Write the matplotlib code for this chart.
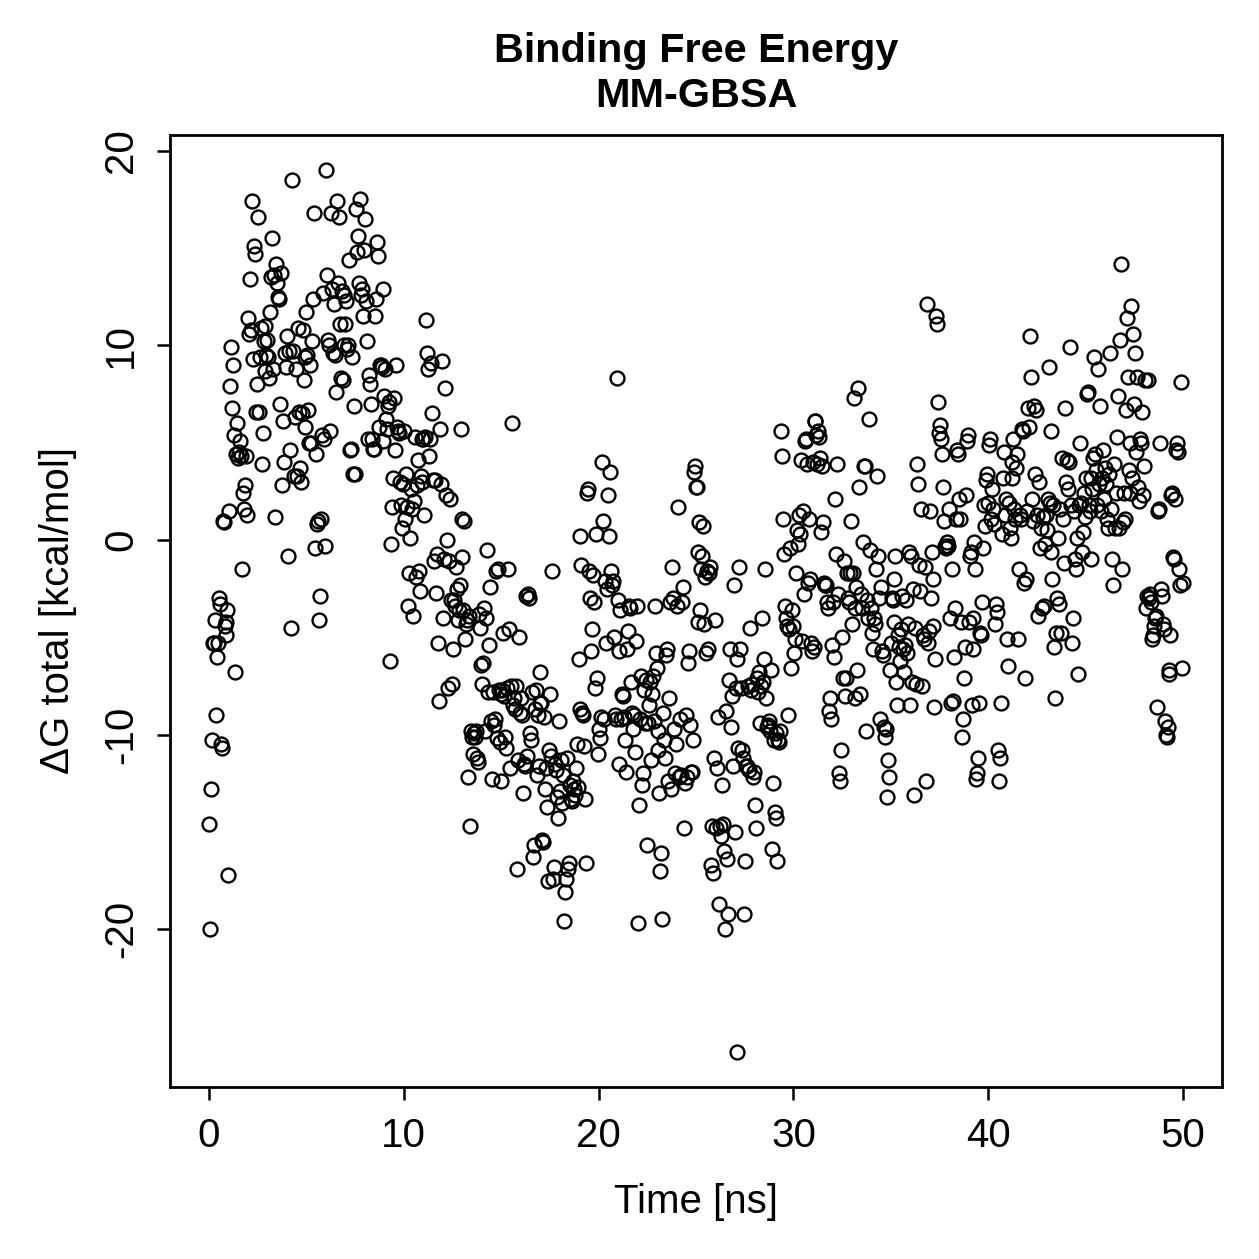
import numpy as np
import matplotlib
matplotlib.use("Agg")
from matplotlib import pyplot as plt

# Binding free energy per frame (kcal/mol), 20 frames per ns
dg_rows = [
    [-14.6, -20.0, -12.8, -10.3, -5.3, -5.3, -4.1, -9.0, -6.0, -5.3, -3.0, -3.3, -10.5, -10.7, 1.0, 0.9, -4.4, -4.2, -4.9, -3.6],
    [-17.2, 1.5, 7.9, 9.9, 6.8, 9.0, 5.4, -6.8, 4.4, 6.0, 4.2, 4.5, 5.1, 4.3, -1.5, 2.4, 1.6, 2.8, 4.3, 1.3],
    [11.4, 10.6, 13.4, 10.8, 17.4, 9.3, 15.1, 14.7, 6.6, 8.0, 16.6, 6.6, 9.4, 10.9, 3.9, 5.5, 10.2, 11.0, 8.7, 9.5],
    [10.3, 9.4, 8.3, 11.7, 13.5, 15.5, 8.8, 13.6, 1.2, 14.2, 13.2, 12.5, 12.4, 7.0, 13.7, 2.8, 6.1, 4.0, 9.6, 8.9],
    [10.5, -0.8, 9.7, 4.6, -4.5, 18.5, 9.7, 3.3, 6.3, 8.8, 3.3, 10.9, 6.6, 3.7, 3.0, 6.5, 10.8, 8.2, 9.4, 5.8],
    [11.7, 9.5, 6.7, 5.0, 9.0, 5.0, 10.2, 12.4, 16.8, -0.4, 4.4, 0.8, 1.0, -4.1, -2.9, 1.1, 5.4, 12.7, 5.2, -0.3],
    [19.0, 13.6, 10.3, 10.0, 5.6, 16.8, 12.9, 9.6, 12.1, 9.5, 7.6, 17.4, 13.2, 16.6, 11.1, 8.3, 12.8, 8.2, 12.6, 10.0],
    [11.1, 12.3, 9.8, 10.0, 14.4, 4.6, 4.7, 9.4, 3.4, 6.9, 3.4, 17.0, 14.8, 15.6, 13.2, 17.5, 12.6, 12.9, 11.5, 14.9],
    [16.5, 12.3, 10.2, 5.2, 8.5, 8.0, 7.0, 5.2, 4.7, 4.7, 11.5, 12.4, 15.3, 14.6, 5.8, 9.0, 9.0, 8.9, 5.1, 12.9],
    [7.4, 8.8, 6.2, 5.7, 6.9, 7.1, -6.2, -0.2, 1.7, 3.2, 7.3, 4.6, 9.0, 5.8, 5.6, 5.5, 3.0, 1.8, 0.6, 2.9],
    [5.6, 1.1, 3.4, 1.7, -3.4, -1.7, 0.1, 2.6, 1.6, -3.9, 2.0, 5.3, -1.9, 2.8, 4.1, -1.6, -2.6, 3.3, 3.0, 5.2],
    [5.2, 1.3, 5.3, 11.3, 9.6, 8.8, 4.3, 5.2, 9.1, 6.5, 3.1, -1.1, 3.1, -2.7, -0.7, -5.3, -8.3, 5.7, 2.9, 9.2],
    [-4.0, -1.0, 7.8, 2.3, 0.0, -7.6, -1.1, 2.1, -3.1, -7.4, -5.6, -3.1, -3.4, -1.4, -2.5, -4.1, -3.6, -2.3, 5.7, -0.9],
    [1.1, -3.6, 1.0, -5.1, -4.3, -4.1, -12.2, -3.9, -14.7, -9.8, -10.1, -11.0, -9.9, -10.1, -9.8, -11.2, -11.4, -3.8, -4.5, -6.4],
    [-7.4, -6.3, -3.5, -9.8, -4.0, -0.5, -7.8, -5.4, -2.4, -9.3, -12.3, -7.8, -9.5, -9.2, -1.6, -10.2, -1.5, -7.7, -10.4, -7.9],
    [-12.4, -7.7, -4.8, -8.0, -10.1, -10.7, -7.6, -1.5, -4.6, -11.7, -7.5, 6.0, -8.5, -8.1, -8.7, -7.5, -16.9, -11.3, -5.0, -8.9],
    [-8.1, -9.0, -13.0, -11.5, -11.6, -2.9, -11.1, -2.8, -3.0, -9.9, -10.3, -7.8, -16.3, -15.7, -8.7, -7.7, -12.1, -9.0, -11.6, -8.4],
    [-6.8, -8.4, -15.4, -15.5, -9.1, -12.8, -11.7, -13.7, -17.5, -10.8, -7.9, -11.1, -1.6, -17.4, -16.8, -11.5, -11.8, -13.2, -14.3, -9.3],
    [-12.9, -11.3, -13.5, -12.1, -19.6, -18.1, -17.4, -11.2, -16.9, -16.6, -12.6, -13.3, -13.4, -12.4, -12.8, -13.1, -11.7, -10.5, -12.7, -6.1],
    [-8.7, 0.2, -1.3, -8.9, -9.0, -10.6, -13.3, -16.6, 2.4, 2.6, -1.6, -3.0, -5.7, -4.6, -1.8, -3.2, -7.6, 0.3, -7.1, -11.0],
    [-9.7, -10.2, -9.1, 4.0, 1.0, -9.2, -2.1, -5.3, -2.5, 2.3, 0.2, 3.5, -1.6, -2.3, -2.1, -5.0, -9.0, -9.2, 8.3, -3.1],
    [-11.5, -5.7, -3.6, -9.2, -7.9, -8.0, -9.1, -10.3, -11.9, -5.6, -4.7, -3.4, -3.5, -7.3, -8.9, -9.7, -9.0, -10.9, -5.2, -3.4],
    [-19.7, -13.6, -9.2, -7.0, -12.6, -12.0, -7.7, -9.4, -7.2, -15.7, -9.4, -8.5, -7.3, -11.3, -7.9, -7.0, -9.3, -3.4, -5.8, -6.6],
    [-10.8, -9.8, -13.0, -17.0, -16.1, -19.5, -8.9, -10.3, -11.2, -5.9, -5.6, -12.4, -8.1, -3.2, -12.8, -1.4, -3.0, -9.7, -12.0, -10.5],
    [-3.4, 1.7, -12.2, -9.2, -12.1, -3.2, -2.4, -14.8, -12.5, -9.0, -12.2, -6.3, -5.7, -9.5, -11.9, -11.9, -10.3, 3.5, 3.8, 2.7],
    [2.7, -0.6, -4.2, 0.9, -3.6, -1.5, -0.8, 0.7, -4.3, -1.9, -5.8, -1.6, -5.6, -1.7, -1.4, -16.7, -14.7, -17.1, -11.2, -4.1],
    [-14.8, -11.7, -9.1, -18.7, -14.7, -15.2, -12.6, -14.6, -16.0, -20.0, -8.8, -16.4, -19.2, -7.2, -5.6, -9.6, -8.0, -11.6, -2.3, -15.0],
    [-7.6, -26.3, -6.1, -10.7, -1.4, -5.6, -7.6, -10.8, -11.2, -19.2, -16.5, -11.6, -11.6, -7.5, -11.8, -4.5, -7.7, -7.4, -12.2, -11.9],
    [-13.6, -14.8, -7.1, -7.8, -6.8, -9.4, -7.5, -4.0, -7.3, -6.1, -1.5, -8.1, -9.6, -9.5, -9.3, -9.8, -6.7, -15.9, -12.5, -10.3],
    [-14.0, -14.3, -9.9, -16.5, -10.3, -10.4, -9.8, 5.6, 4.3, 1.1, -0.7, -3.4, -4.0, -4.4, -9.0, -4.6, -0.4, -6.6, -3.6, -4.4],
    [-5.8, -5.1, -1.7, 0.5, -0.2, 1.3, 0.3, 4.1, -5.2, 1.5, -2.8, 5.1, 5.2, 3.9, -2.2, 1.1, -2.0, -5.3, -5.7, 4.0],
    [-5.5, 6.1, 6.1, 5.4, 3.9, 5.6, 5.3, 4.2, 0.4, 3.8, 0.9, -2.2, -2.3, -2.3, -3.2, -3.5, -8.8, -8.1, -9.2, -5.4],
    [-3.2, -6.0, 2.1, -0.7, 3.9, -2.8, -12.0, -12.4, -10.8, -5.0, -7.1, -1.1, -8.0, -7.1, -1.7, -3.0, -3.2, -1.7, 1.0, -4.3],
    [-1.7, 7.3, -3.5, -8.1, -2.4, -6.7, 7.8, 2.7, -7.9, -2.8, -3.5, -0.1, 3.8, 3.8, -9.8, -3.1, -4.0, 6.2, -0.5, -3.5],
    [-4.8, -5.6, -4.0, -4.3, -1.5, 3.3, -0.8, -3.0, -9.2, -2.4, -5.7, -5.9, -9.6, -10.1, -9.7, -13.2, -11.3, -12.2, -6.7, -5.3],
    [-3.0, -3.1, -2.0, -4.2, -0.8, -7.3, -8.5, -4.9, -5.5, -6.2, -4.6, -2.9, -5.6, -6.8, -5.4, -3.1, -5.8, -4.3, -0.6, -8.5],
    [-0.8, -7.3, -2.5, -13.1, -4.5, -7.4, 3.9, 2.9, -1.3, -2.6, 1.6, -7.5, -4.9, -5.1, -1.4, -12.4, 12.1, -5.3, -4.7, 1.5],
    [-3.0, -0.6, -2.0, -4.4, -8.6, -6.1, 11.5, 11.1, 7.1, 5.5, 5.9, 5.2, 4.4, 2.7, 1.0, -0.3, -0.4, -0.1, -0.3, 1.6],
    [-4.0, -8.4, -1.5, -8.3, -6.0, -3.5, 1.1, 4.6, 4.4, 2.1, 1.1, -4.2, -10.1, -9.2, -7.1, -5.5, 2.3, 5.1, 5.4, -4.2],
    [-0.8, -0.6, -8.5, -5.6, -4.0, -0.1, -1.5, -12.3, -12.0, -11.2, -8.4, -4.8, -4.9, -3.2, -0.4, 1.8, 0.7, 3.1, 3.4, 1.9],
    [4.9, 5.2, 1.1, 2.6, 1.6, 0.8, -4.3, -3.3, -3.7, -10.8, -12.4, -11.2, -8.4, 0.3, 3.2, 4.5, 1.3, 2.1, -5.1, -6.5],
    [1.9, 0.6, 0.1, 3.2, 4.0, 5.2, 1.6, 1.1, 3.7, 4.4, -5.1, -1.5, 1.3, 1.1, 5.7, 5.6, -2.2, -7.1, -2.0, 1.5],
    [6.8, 5.8, 10.5, 8.4, 2.1, 1.0, 6.9, 3.4, 6.7, 1.3, -3.9, 3.0, -0.4, 0.6, -3.5, 1.2, -3.4, -0.2, 1.3, 0.5],
    [2.1, 8.9, 1.9, -0.6, 5.6, -2.0, 1.8, -5.5, -8.1, -4.8, -3.0, 0.1, -3.3, 1.6, -4.8, 4.2, 1.1, -1.2, 6.8, 3.0],
    [4.1, 2.6, 4.0, 9.9, 1.8, -5.3, -4.0, 1.5, -1.0, -1.5, 0.1, -6.9, 1.8, 5.0, 1.9, -0.6, 0.4, 2.4, 1.2, 3.2],
    [7.5, 7.6, 1.8, 1.5, -1.0, 3.2, 2.6, 4.2, 9.4, 4.4, 3.6, 1.8, 8.8, 2.9, 6.9, 1.5, 3.2, 4.6, 2.1, 3.7],
    [2.9, 1.1, 0.6, 3.4, 9.6, 1.6, -1.0, -2.3, 3.9, 0.6, 2.4, 5.3, 7.4, 0.6, 10.3, 14.2, -1.5, 0.9, 2.4, 1.1],
    [6.7, 11.4, 8.4, 3.6, 2.4, 5.0, 12.0, 3.2, 10.6, 7.0, 9.6, 4.5, 8.4, 2.7, 2.0, 5.2, 5.0, 6.6, 2.3, 3.8],
    [8.2, -3.5, -2.9, 8.2, -3.0, -2.8, -3.2, -5.1, -4.9, -4.4, -4.0, -3.9, -8.6, 1.5, 1.6, 5.0, -2.5, -2.9, -4.3, -4.6],
    [-9.3, -10.0, -10.1, -9.6, -6.9, -6.7, -4.9, 2.3, 2.4, -0.9, -1.0, 2.1, 4.6, 5.0, 4.5, -1.5, -2.3, 8.1, -6.6, -2.2],
]
dg = np.concatenate(dg_rows)
time_ns = np.linspace(0, 50, len(dg))

plt.rcParams['font.family'] = ['Liberation Sans', 'DejaVu Sans']
plt.rcParams['axes.unicode_minus'] = False

fig = plt.figure(figsize=(6.295, 6.295), dpi=200)
ax = fig.add_axes([0.135, 0.1366, 0.8357, 0.7562])

ax.plot(time_ns, dg, linestyle='', marker='o', ms=5.0, mfc='none',
        mec='black', mew=0.85)

# R style 4% padding around the data
pad_x = 0.04 * (time_ns.max() - time_ns.min())
pad_y = 0.04 * (dg.max() - dg.min())
ax.set_xlim(time_ns.min() - pad_x, time_ns.max() + pad_x)
ax.set_ylim(dg.min() - pad_y, dg.max() + pad_y)

ax.set_xticks([0, 10, 20, 30, 40, 50])
ax.set_yticks([-20, -10, 0, 10, 20])
ax.tick_params(direction='out', length=4.7, width=0.9, labelsize=14.5, pad=6)
ax.tick_params(axis='y', labelrotation=90)
for lab in ax.get_yticklabels():
    lab.set_va('center')
for sp in ax.spines.values():
    sp.set_linewidth(1.0)

ax.set_xlabel('Time [ns]', fontsize=14.5, labelpad=10)
ax.set_ylabel('ΔG total [kcal/mol]', fontsize=14.5, labelpad=9)
ax.set_title('Binding Free Energy\nMM-GBSA', fontsize=14.9, fontweight='bold',
             linespacing=1.25, pad=10)

fig.savefig('out.png', dpi=200)
